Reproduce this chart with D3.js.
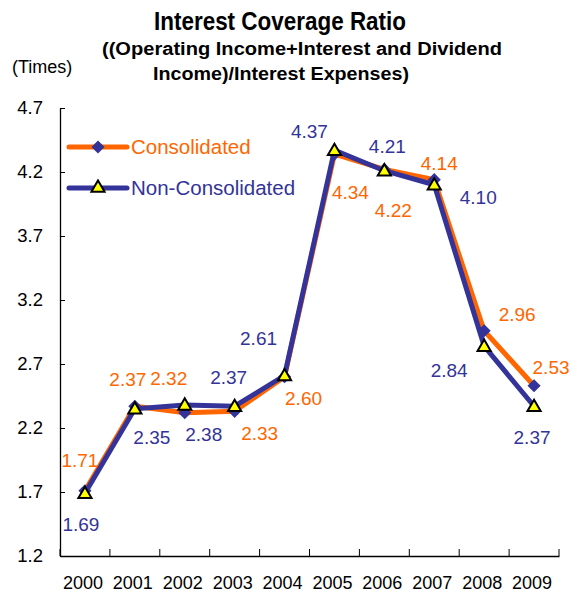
<script src="https://d3js.org/d3.v7.min.js"></script>
<style>
  body { margin: 0; background: #fff; }
  text { font-family: 'Liberation Sans', Arial, sans-serif; }
</style>
<div id="vis"></div>
<script>
  var years = ['2000', '2001', '2002', '2003', '2004', '2005', '2006', '2007', '2008', '2009'];
  var consolidated = [1.71, 2.37, 2.32, 2.33, 2.60, 4.34, 4.22, 4.14, 2.96, 2.53];
  var nonConsolidated = [1.69, 2.35, 2.38, 2.37, 2.61, 4.37, 4.21, 4.10, 2.84, 2.37];
  var yTicks = [1.2, 1.7, 2.2, 2.7, 3.2, 3.7, 4.2, 4.7];

  // label offsets (px) from each point
  var consOffsets = [[-5, -30], [-7, -27], [-16, -34], [25, 22], [19, 22], [16, 38], [9, 41], [5, -16], [33, -16], [17, -18]];
  var nonOffsets = [[-4, 31], [17, 29], [19, 29], [-6, -29], [-26, -37], [-25, -19], [3, -24], [44, 13], [-35, 24], [-2, 31]];

  var orange = '#ff6600';
  var blue = '#333399';

  var svg = d3.select('#vis')
    .append('svg')
    .attr('width', 571)
    .attr('height', 597);

  var x = d3.scaleBand().domain(years).range([60, 559]).padding(0);
  var y = d3.scaleLinear().domain([1.2, 4.7]).range([556, 108]);
  var cx = function(i) { return x(years[i]) + x.bandwidth() / 2; };

  // titles
  svg.append('text').attr('x', 280).attr('y', 30).attr('text-anchor', 'middle')
    .attr('font-size', 25).attr('font-weight', 'bold')
    .attr('textLength', 252).attr('lengthAdjust', 'spacingAndGlyphs')
    .text('Interest Coverage Ratio');
  svg.append('text').attr('x', 302).attr('y', 55).attr('text-anchor', 'middle')
    .attr('font-size', 18).attr('font-weight', 'bold')
    .attr('textLength', 400).attr('lengthAdjust', 'spacingAndGlyphs')
    .text('((Operating Income+Interest and Dividend');
  svg.append('text').attr('x', 281).attr('y', 80).attr('text-anchor', 'middle')
    .attr('font-size', 18).attr('font-weight', 'bold')
    .attr('textLength', 256).attr('lengthAdjust', 'spacingAndGlyphs')
    .text('Income)/Interest Expenses)');
  svg.append('text').attr('x', 12).attr('y', 73)
    .attr('font-size', 18).text('(Times)');

  // y axis
  var yAxis = svg.append('g')
    .attr('transform', 'translate(60,0)')
    .call(d3.axisLeft(y).tickValues(yTicks).tickFormat(d3.format('.1f')).tickSizeInner(-5).tickSizeOuter(0).tickPadding(17));
  yAxis.selectAll('text').attr('font-size', 18.5).attr('fill', '#000').attr('font-family', 'Liberation Sans, Arial, sans-serif');

  // x axis
  var xAxis = svg.append('g')
    .attr('transform', 'translate(0,556)')
    .call(d3.axisBottom(x).tickSize(0).tickPadding(20));
  xAxis.selectAll('text').attr('font-size', 18).attr('fill', '#000').attr('font-family', 'Liberation Sans, Arial, sans-serif')
    .attr('dx', -2);
  svg.selectAll('.domain').attr('stroke', '#000').attr('stroke-width', 1.3);

  svg.append('g').selectAll('line')
    .data(years.concat(['end']))
    .enter().append('line')
    .attr('x1', function(d, i) { return i < years.length ? x(d) : x.range()[1]; })
    .attr('x2', function(d, i) { return i < years.length ? x(d) : x.range()[1]; })
    .attr('y1', 556).attr('y2', 549)
    .attr('stroke', '#000');

  // lines
  var line = d3.line()
    .x(function(d, i) { return cx(i); })
    .y(function(d) { return y(d); });

  svg.append('path').datum(consolidated)
    .attr('d', line).attr('fill', 'none').attr('stroke', orange).attr('stroke-width', 5);
  svg.append('path').datum(nonConsolidated)
    .attr('d', line).attr('fill', 'none').attr('stroke', blue).attr('stroke-width', 5);

  var diamond = d3.symbol().type(d3.symbolDiamond2).size(110);
  var tri = d3.symbol().type(d3.symbolTriangle).size(75);

  svg.append('g').selectAll('path')
    .data(consolidated).enter().append('path')
    .attr('d', diamond)
    .attr('transform', function(d, i) { return 'translate(' + cx(i) + ',' + y(d) + ')'; })
    .attr('fill', blue);

  svg.append('g').selectAll('path')
    .data(nonConsolidated).enter().append('path')
    .attr('d', tri)
    .attr('transform', function(d, i) { return 'translate(' + cx(i) + ',' + (y(d) + 1) + ')'; })
    .attr('fill', '#ffff00').attr('stroke', '#000').attr('stroke-width', 2);

  // data labels
  svg.append('g').selectAll('text')
    .data(consolidated).enter().append('text')
    .attr('x', function(d, i) { return cx(i) + consOffsets[i][0]; })
    .attr('y', function(d, i) { return y(d) + consOffsets[i][1]; })
    .attr('dy', '0.35em').attr('text-anchor', 'middle')
    .attr('font-size', 19).attr('fill', orange)
    .text(function(d) { return d.toFixed(2); });

  svg.append('g').selectAll('text')
    .data(nonConsolidated).enter().append('text')
    .attr('x', function(d, i) { return cx(i) + nonOffsets[i][0]; })
    .attr('y', function(d, i) { return y(d) + nonOffsets[i][1]; })
    .attr('dy', '0.35em').attr('text-anchor', 'middle')
    .attr('font-size', 19).attr('fill', blue)
    .text(function(d) { return d.toFixed(2); });

  // legend
  var legend = [
    { name: 'Consolidated', color: orange, y: 147, sym: diamond, fill: blue, stroke: 'none' },
    { name: 'Non-Consolidated', color: blue, y: 188, sym: tri, fill: '#ffff00', stroke: '#000' }
  ];
  var lg = svg.append('g').selectAll('g').data(legend).enter().append('g');
  lg.append('line')
    .attr('x1', 69).attr('x2', 127)
    .attr('y1', function(d) { return d.y; }).attr('y2', function(d) { return d.y; })
    .attr('stroke', function(d) { return d.color; }).attr('stroke-width', 5).attr('stroke-linecap', 'round');
  lg.append('path')
    .attr('d', function(d) { return d.sym(); })
    .attr('transform', function(d) { return 'translate(98,' + d.y + ')'; })
    .attr('fill', function(d) { return d.fill; })
    .attr('stroke', function(d) { return d.stroke; }).attr('stroke-width', 2);
  lg.append('text')
    .attr('x', 131).attr('y', function(d) { return d.y; }).attr('dy', '0.35em')
    .attr('font-size', 20.5).attr('fill', function(d) { return d.color; })
    .text(function(d) { return d.name; });
</script>
